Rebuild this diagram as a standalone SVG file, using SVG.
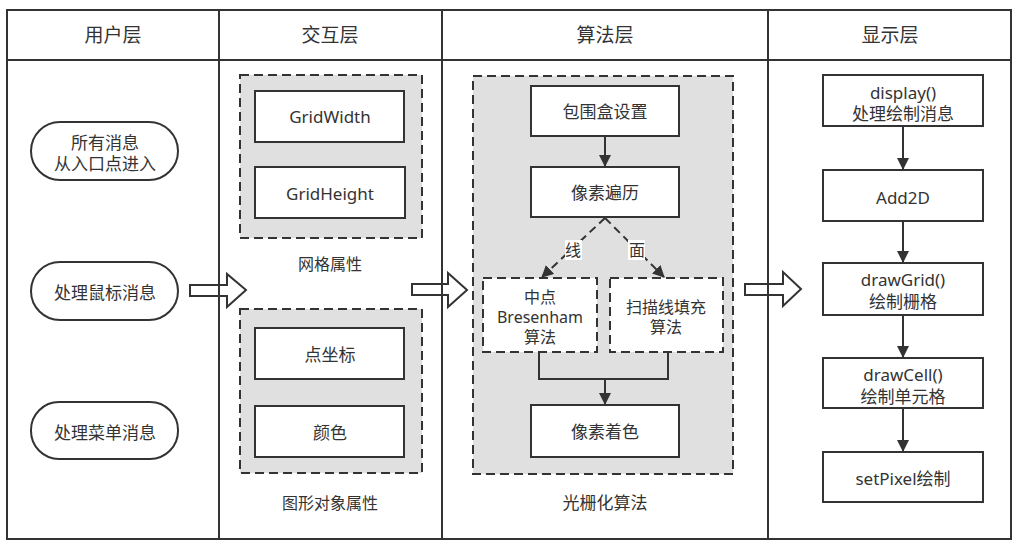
<svg xmlns="http://www.w3.org/2000/svg" width="1020" height="550" viewBox="0 0 1020 550">
<style>
text{font-family:"Noto Sans","Noto Sans CJK SC",sans-serif;fill:#333;text-anchor:middle;dominant-baseline:central;font-size:17px}
.hd{font-size:19px}
.sm{font-size:16px}
.box{fill:#fff;stroke:#333;stroke-width:2}
.grp{fill:#e0e0e0;stroke:#333;stroke-width:2;stroke-dasharray:9 5}
.dbox{fill:#fff;stroke:#333;stroke-width:2;stroke-dasharray:9 5}
.ln{fill:none;stroke:#333;stroke-width:2}
.dl{fill:none;stroke:#333;stroke-width:2;stroke-dasharray:8 5}
.blk{fill:#fff;stroke:#333;stroke-width:2;stroke-linejoin:miter}
.lbl{fill:#fff}
</style>
<defs>
<marker id="ah" markerWidth="12" markerHeight="12" viewBox="0 0 12 12" refX="11" refY="6" orient="auto" markerUnits="userSpaceOnUse">
<path d="M0,0 L12,6 L0,12 Z" fill="#333"/>
</marker>
</defs>
<rect x="0" y="0" width="1020" height="550" fill="#fff"/>

<g id="block-arrows">
<polygon class="blk" points="190,285 227,285 227,274 246,290 227,307 227,296 190,296"/>
<polygon class="blk" points="412,284 448,284 448,273 467,290 448,307 448,295 412,295"/>
<polygon class="blk" points="745,284 783,284 783,272 801,289 783,306 783,295 745,295"/>
</g>

<g id="frame">
<rect x="7" y="10" width="1004" height="529" fill="none" stroke="#333" stroke-width="2"/>
<line x1="7" y1="60" x2="1011" y2="60" stroke="#333" stroke-width="2"/>
<line x1="219" y1="10" x2="219" y2="539" stroke="#333" stroke-width="2"/>
<line x1="442" y1="10" x2="442" y2="539" stroke="#333" stroke-width="2"/>
<line x1="768" y1="10" x2="768" y2="539" stroke="#333" stroke-width="2"/>
<text class="hd" x="113" y="35">用户层</text>
<text class="hd" x="330" y="35">交互层</text>
<text class="hd" x="605" y="35">算法层</text>
<text class="hd" x="890" y="35">显示层</text>
</g>

<g id="user-all">
<rect class="box" x="31" y="122" width="147" height="58" rx="29"/>
<text x="105" y="142">所有消息</text>
<text x="105" y="163">从入口点进入</text>
</g>
<g id="user-mouse">
<rect class="box" x="31" y="262" width="147" height="58" rx="29"/>
<text x="105" y="292">处理鼠标消息</text>
</g>
<g id="user-menu">
<rect class="box" x="31" y="402" width="147" height="57" rx="28"/>
<text x="105" y="432">处理菜单消息</text>
</g>

<g id="grid-attr">
<rect class="grp" x="240" y="75" width="182" height="163"/>
<text class="sm" x="330" y="264">网格属性</text>
</g>
<g id="grid-width">
<rect class="box" x="255" y="91" width="149" height="51"/>
<text x="330" y="116">GridWidth</text>
</g>
<g id="grid-height">
<rect class="box" x="255" y="167" width="150" height="51"/>
<text x="330" y="193">GridHeight</text>
</g>

<g id="shape-attr">
<rect class="grp" x="240" y="309" width="182" height="164"/>
<text class="sm" x="330" y="503">图形对象属性</text>
</g>
<g id="point-coord">
<rect class="box" x="255" y="328" width="149" height="51"/>
<text x="330" y="354">点坐标</text>
</g>
<g id="color">
<rect class="box" x="255" y="406" width="149" height="51"/>
<text x="330" y="432">颜色</text>
</g>

<g id="raster">
<rect class="grp" x="473" y="76" width="260" height="398"/>
<text x="605" y="502">光栅化算法</text>
</g>
<g id="bbox">
<rect class="box" x="531" y="86" width="148" height="50"/>
<text x="605" y="111">包围盒设置</text>
</g>
<g id="pixel-traverse">
<rect class="box" x="531" y="167" width="148" height="50"/>
<text x="605" y="192">像素遍历</text>
</g>
<g id="bresenham">
<rect class="dbox" x="483" y="278" width="114" height="74"/>
<text class="sm" x="540" y="297">中点</text>
<text class="sm" x="540" y="317">Bresenham</text>
<text class="sm" x="540" y="337">算法</text>
</g>
<g id="scanline">
<rect class="dbox" x="610" y="278" width="113" height="74"/>
<text class="sm" x="666" y="307">扫描线填充</text>
<text class="sm" x="666" y="327">算法</text>
</g>
<g id="pixel-color">
<rect class="box" x="531" y="405" width="148" height="52"/>
<text x="605" y="431">像素着色</text>
</g>

<g id="disp">
<rect class="box" x="823" y="75" width="160" height="51"/>
<text x="903" y="92">display()</text>
<text x="903" y="113">处理绘制消息</text>
</g>
<g id="add2d">
<rect class="box" x="823" y="170" width="160" height="51"/>
<text x="903" y="197">Add2D</text>
</g>
<g id="drawgrid">
<rect class="box" x="823" y="263" width="160" height="52"/>
<text x="903" y="279">drawGrid()</text>
<text x="903" y="301">绘制栅格</text>
</g>
<g id="drawcell">
<rect class="box" x="823" y="358" width="160" height="50"/>
<text x="903" y="374">drawCell()</text>
<text x="903" y="396">绘制单元格</text>
</g>
<g id="setpixel">
<rect class="box" x="823" y="452" width="160" height="50"/>
<text x="903" y="478">setPixel绘制</text>
</g>

<g id="connectors">
<line class="ln" x1="605" y1="136" x2="605" y2="166" marker-end="url(#ah)"/>
<line class="dl" x1="605" y1="218" x2="542" y2="277" marker-end="url(#ah)"/>
<line class="dl" x1="605" y1="218" x2="664" y2="277" marker-end="url(#ah)"/>
<rect class="lbl" x="565" y="240" width="17" height="20"/>
<text class="sm" x="573" y="250">线</text>
<rect class="lbl" x="628" y="240" width="17" height="20"/>
<text class="sm" x="637" y="250">面</text>
<polyline class="ln" points="539,352 539,379 668,379 668,352"/>
<line class="ln" x1="605" y1="379" x2="605" y2="404" marker-end="url(#ah)"/>
<line class="ln" x1="903" y1="126" x2="903" y2="169" marker-end="url(#ah)"/>
<line class="ln" x1="903" y1="221" x2="903" y2="262" marker-end="url(#ah)"/>
<line class="ln" x1="903" y1="315" x2="903" y2="357" marker-end="url(#ah)"/>
<line class="ln" x1="903" y1="408" x2="903" y2="451" marker-end="url(#ah)"/>
</g>
</svg>
